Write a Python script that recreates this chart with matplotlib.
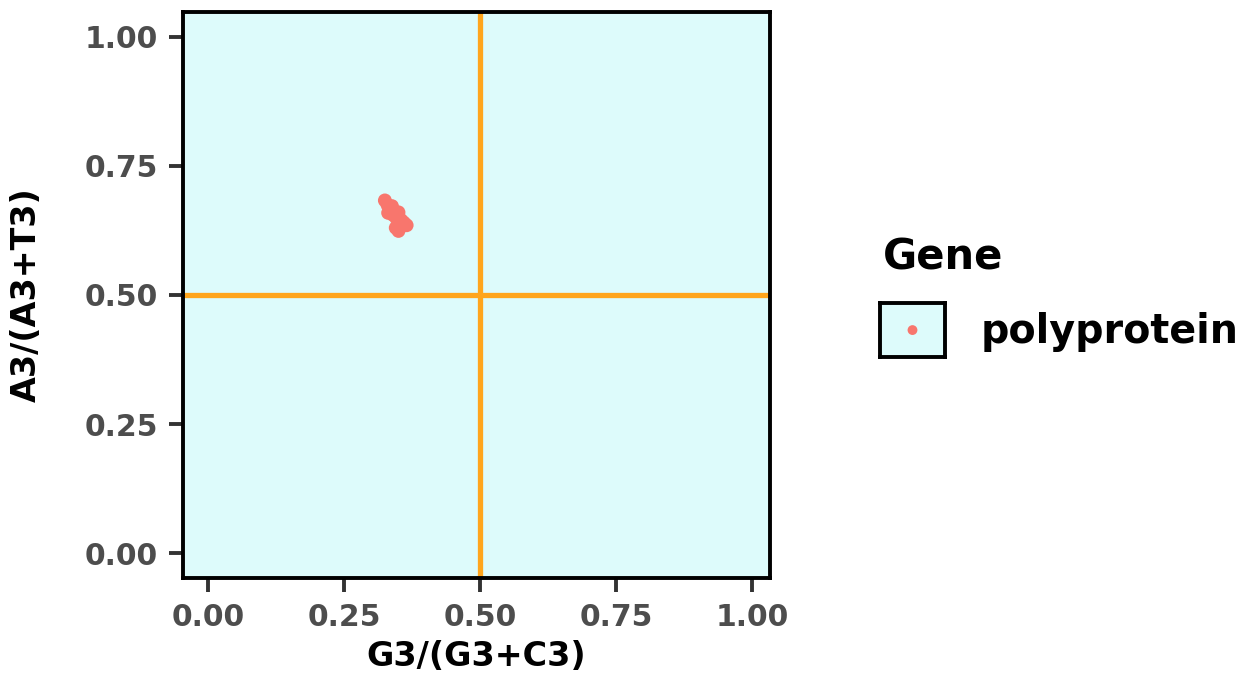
import matplotlib.pyplot as plt

# neutrality-style plot data
gc3 = [0.325, 0.330, 0.336, 0.331, 0.340, 0.346, 0.350, 0.355, 0.360, 0.365, 0.345, 0.350, 0.338]
at3 = [0.683, 0.674, 0.667, 0.659, 0.655, 0.649, 0.660, 0.645, 0.640, 0.635, 0.630, 0.624, 0.672]
gene = "polyprotein"
ticks = [0.00, 0.25, 0.50, 0.75, 1.00]
tick_labels = ["0.00", "0.25", "0.50", "0.75", "1.00"]

bg = "#DDFBFB"
pt_col = "#F8766D"
line_col = "#FFA51C"

fig = plt.figure(figsize=(12.47, 6.88), dpi=100)
ax = fig.add_axes([0.1468, 0.160, 0.4707, 0.8226])
ax.set_facecolor(bg)

ax.axvline(0.5, color=line_col, lw=3.8, zorder=1)
ax.axhline(0.5, color=line_col, lw=3.8, zorder=1)
ax.scatter(gc3, at3, s=100, color=pt_col, edgecolors="none", zorder=3)

ax.set_xlim(-0.046, 1.033)
ax.set_ylim(-0.048, 1.048)
ax.set_xticks(ticks)
ax.set_xticklabels(tick_labels)
ax.set_yticks(ticks)
ax.set_yticklabels(tick_labels)

for s in ax.spines.values():
    s.set_linewidth(2.8)
    s.set_color("black")
ax.tick_params(width=2.8, length=10, color="#333333", labelcolor="#4D4D4D",
               labelsize=21.5, pad=8)
for lab in ax.get_xticklabels() + ax.get_yticklabels():
    lab.set_fontweight("bold")

ax.set_xlabel("G3/(G3+C3)", fontsize=24, fontweight="bold", labelpad=6)
ax.set_ylabel("A3/(A3+T3)", fontsize=24, fontweight="bold", labelpad=30)

# legend drawn by hand
fig.text(0.708, 0.625, "Gene", fontsize=30, fontweight="bold", va="center")
kax = fig.add_axes([0.7057, 0.481, 0.0521, 0.0785])
kax.set_facecolor(bg)
kax.set_xlim(0, 1)
kax.set_ylim(0, 1)
kax.set_xticks([])
kax.set_yticks([])
for s in kax.spines.values():
    s.set_linewidth(2.8)
kax.scatter([0.5], [0.5], s=50, color=pt_col, edgecolors="none")
fig.text(0.786, 0.518, gene, fontsize=28.5, fontweight="bold", va="center")

fig.savefig("out.png", dpi=100)
